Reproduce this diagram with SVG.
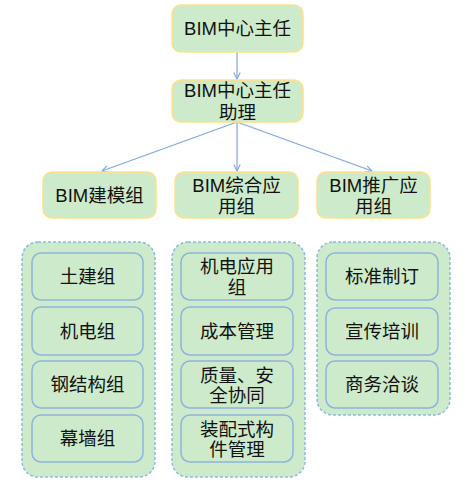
<svg xmlns="http://www.w3.org/2000/svg" width="475" height="489" viewBox="0 0 475 489">
<defs>
<style>
.top{fill:#CDEBCA;stroke:#FFE08A;stroke-width:1.5}
.grp{fill:#CDEBCA;stroke:#8FB9E0;stroke-width:1.5;stroke-dasharray:3 2}
.item{fill:#CDEBCA;stroke:#8DB4DE;stroke-width:1.5}
.t{font-family:"Liberation Sans","Noto Sans CJK SC",sans-serif;font-size:18.5px;fill:#111;text-anchor:middle;dominant-baseline:central}
.c{stroke:#7FA6DE;stroke-width:1.2;fill:none;marker-end:url(#ah)}
</style>
<marker id="ah" viewBox="0 0 10 10" refX="9" refY="5" markerWidth="8" markerHeight="8" markerUnits="userSpaceOnUse" orient="auto">
<path d="M1,1 L9,5 L1,9" fill="none" stroke="#7FA6DE" stroke-width="1.4"/>
</marker>
</defs>
<rect width="475" height="489" fill="#fff"/>
<g id="connectors">
<line class="c" x1="237" y1="52" x2="237" y2="79"/>
<line class="c" x1="237" y1="122" x2="102" y2="171"/>
<line class="c" x1="237" y1="122" x2="237" y2="171"/>
<line class="c" x1="237" y1="122" x2="372" y2="171"/>
</g>
<g id="n-director"><rect class="top" x="172" y="5" width="131" height="47" rx="9"/><text class="t" x="237.5" y="28.5">BIM中心主任</text></g>
<g id="n-assistant"><rect class="top" x="172" y="80" width="131" height="42" rx="9"/><text class="t" x="237.5" y="90">BIM中心主任</text><text class="t" x="237.5" y="112">助理</text></g>
<g id="n-model"><rect class="top" x="43" y="172" width="113" height="46" rx="9"/><text class="t" x="99.5" y="195">BIM建模组</text></g>
<g id="n-app"><rect class="top" x="175" y="172" width="123" height="46" rx="9"/><text class="t" x="236.5" y="185">BIM综合应</text><text class="t" x="236.5" y="206">用组</text></g>
<g id="n-promo"><rect class="top" x="317" y="172" width="113" height="46" rx="9"/><text class="t" x="373.5" y="185">BIM推广应</text><text class="t" x="373.5" y="206">用组</text></g>
<g id="g-left"><rect class="grp" x="22" y="242" width="133" height="235" rx="16"/></g>
<g id="g-mid"><rect class="grp" x="172" y="242" width="133" height="235" rx="16"/></g>
<g id="g-right"><rect class="grp" x="317" y="242" width="133" height="173" rx="16"/></g>
<g id="n-tujian"><rect class="item" x="32" y="253" width="111" height="47" rx="9"/><text class="t" x="87.5" y="276.5">土建组</text></g>
<g id="n-jidian"><rect class="item" x="32" y="307" width="111" height="48" rx="9"/><text class="t" x="87.5" y="331">机电组</text></g>
<g id="n-gang"><rect class="item" x="32" y="361" width="111" height="47" rx="9"/><text class="t" x="87.5" y="384.5">钢结构组</text></g>
<g id="n-muqiang"><rect class="item" x="32" y="415" width="111" height="47" rx="9"/><text class="t" x="87.5" y="438.5">幕墙组</text></g>
<g id="n-jdyy"><rect class="item" x="181" y="253" width="112" height="47" rx="9"/><text class="t" x="237" y="266.5">机电应用</text><text class="t" x="237" y="287">组</text></g>
<g id="n-cost"><rect class="item" x="181" y="307" width="112" height="48" rx="9"/><text class="t" x="237" y="331">成本管理</text></g>
<g id="n-quality"><rect class="item" x="181" y="361" width="112" height="47" rx="9"/><text class="t" x="237" y="375">质量、安</text><text class="t" x="237" y="395">全协同</text></g>
<g id="n-prefab"><rect class="item" x="181" y="415" width="112" height="47" rx="9"/><text class="t" x="237" y="429">装配式构</text><text class="t" x="237" y="449">件管理</text></g>
<g id="n-std"><rect class="item" x="326" y="253" width="112" height="47" rx="9"/><text class="t" x="382" y="276.5">标准制订</text></g>
<g id="n-train"><rect class="item" x="326" y="308" width="112" height="47" rx="9"/><text class="t" x="382" y="331">宣传培训</text></g>
<g id="n-biz"><rect class="item" x="326" y="361" width="112" height="47" rx="9"/><text class="t" x="382" y="384.5">商务洽谈</text></g>
</svg>
